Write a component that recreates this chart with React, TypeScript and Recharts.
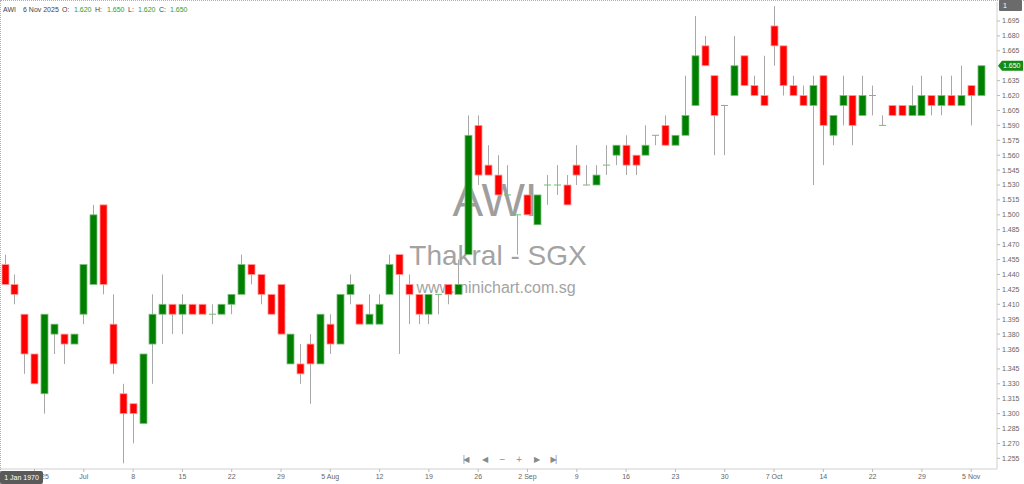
import { ComposedChart, Bar, XAxis, YAxis, ReferenceLine } from "recharts";

// daily OHLC, 19 Jun 2025 -> 6 Nov 2025 (100 sessions)
const opens = [
  1.45, 1.43, 1.4, 1.36, 1.32, 1.38, 1.38, 1.37, 1.4, 1.43,
  1.51, 1.39, 1.32, 1.31, 1.29, 1.37, 1.4, 1.41, 1.4, 1.41,
  1.41, 1.4, 1.4, 1.41, 1.42, 1.45, 1.44, 1.42, 1.43, 1.35,
  1.35, 1.37, 1.35, 1.39, 1.37, 1.42, 1.41, 1.39, 1.39, 1.42,
  1.46, 1.43, 1.42, 1.4, 1.42, 1.43, 1.42, 1.46, 1.59, 1.55,
  1.54, 1.52, 1.5, 1.52, 1.49, 1.53, 1.53, 1.53, 1.55, 1.53,
  1.53, 1.55, 1.56, 1.57, 1.56, 1.56, 1.58, 1.59, 1.57, 1.58,
  1.61, 1.67, 1.64, 1.61, 1.62, 1.66, 1.63, 1.62, 1.69, 1.67,
  1.63, 1.62, 1.61, 1.64, 1.58, 1.61, 1.62, 1.6, 1.62, 1.59,
  1.61, 1.61, 1.6, 1.6, 1.62, 1.61, 1.62, 1.61, 1.63, 1.62,
];
const highs = [
  1.46, 1.44, 1.4, 1.36, 1.4, 1.39, 1.38, 1.38, 1.45, 1.51,
  1.51, 1.42, 1.33, 1.31, 1.36, 1.42, 1.44, 1.41, 1.42, 1.41,
  1.41, 1.41, 1.41, 1.42, 1.46, 1.45, 1.44, 1.42, 1.43, 1.38,
  1.37, 1.38, 1.4, 1.4, 1.42, 1.44, 1.41, 1.42, 1.42, 1.46,
  1.46, 1.44, 1.42, 1.42, 1.42, 1.43, 1.455, 1.6, 1.6, 1.57,
  1.56, 1.55, 1.5, 1.52, 1.52, 1.54, 1.55, 1.54, 1.57, 1.55,
  1.55, 1.57, 1.57, 1.58, 1.56, 1.59, 1.58, 1.6, 1.58, 1.64,
  1.7, 1.68, 1.64, 1.61, 1.68, 1.66, 1.64, 1.66, 1.71, 1.67,
  1.64, 1.63, 1.64, 1.64, 1.6, 1.64, 1.62, 1.64, 1.63, 1.6,
  1.61, 1.61, 1.63, 1.64, 1.62, 1.64, 1.64, 1.65, 1.63, 1.65,
];
const lows = [
  1.43, 1.41, 1.34, 1.33, 1.3, 1.36, 1.35, 1.37, 1.39, 1.43,
  1.42, 1.34, 1.25, 1.27, 1.29, 1.33, 1.37, 1.38, 1.38, 1.4,
  1.4, 1.39, 1.4, 1.4, 1.42, 1.43, 1.41, 1.4, 1.38, 1.35,
  1.33, 1.31, 1.35, 1.36, 1.37, 1.41, 1.39, 1.39, 1.39, 1.42,
  1.36, 1.39, 1.39, 1.39, 1.4, 1.41, 1.42, 1.46, 1.53, 1.54,
  1.52, 1.52, 1.46, 1.5, 1.49, 1.51, 1.52, 1.51, 1.53, 1.53,
  1.53, 1.54, 1.55, 1.54, 1.54, 1.56, 1.57, 1.57, 1.57, 1.58,
  1.61, 1.65, 1.56, 1.56, 1.62, 1.63, 1.62, 1.61, 1.65, 1.62,
  1.62, 1.61, 1.53, 1.55, 1.57, 1.59, 1.57, 1.6, 1.6, 1.59,
  1.6, 1.6, 1.6, 1.6, 1.6, 1.6, 1.61, 1.61, 1.59, 1.62,
];
const closes = [
  1.43, 1.42, 1.36, 1.33, 1.4, 1.39, 1.37, 1.38, 1.45, 1.5,
  1.43, 1.35, 1.3, 1.3, 1.36, 1.4, 1.41, 1.4, 1.41, 1.4,
  1.4, 1.4, 1.41, 1.42, 1.45, 1.44, 1.42, 1.4, 1.38, 1.38,
  1.34, 1.35, 1.4, 1.37, 1.42, 1.43, 1.39, 1.4, 1.41, 1.45,
  1.44, 1.42, 1.4, 1.42, 1.42, 1.42, 1.43, 1.58, 1.54, 1.54,
  1.52, 1.52, 1.5, 1.5, 1.52, 1.53, 1.53, 1.51, 1.54, 1.53,
  1.54, 1.55, 1.57, 1.55, 1.55, 1.57, 1.58, 1.57, 1.58, 1.6,
  1.66, 1.65, 1.6, 1.61, 1.65, 1.63, 1.62, 1.61, 1.67, 1.63,
  1.62, 1.61, 1.63, 1.59, 1.6, 1.62, 1.59, 1.62, 1.62, 1.59,
  1.6, 1.6, 1.61, 1.62, 1.61, 1.62, 1.61, 1.62, 1.62, 1.65,
];

// x ticks: first session of each week
const tickIdx = [3, 8, 13, 18, 23, 28, 33, 38, 43, 48, 53, 58, 63, 68, 73, 78, 83, 88, 93, 98];
const tickLabels = [
  "Jun 2025", "Jul", "8", "15", "22", "29", "5 Aug", "12", "19", "26",
  "2 Sep", "9", "16", "23", "30", "7 Oct", "14", "22", "29", "5 Nov",
];
const priceTicks = [
  1.255, 1.27, 1.285, 1.3, 1.315, 1.33, 1.345, 1.365, 1.38, 1.395, 1.41, 1.425,
  1.44, 1.455, 1.47, 1.485, 1.5, 1.515, 1.53, 1.545, 1.56, 1.575, 1.59, 1.605,
  1.62, 1.635, 1.665, 1.68, 1.695,
];

const data = opens.map((o, i) => ({
  i,
  open: o,
  high: highs[i],
  low: lows[i],
  close: closes[i],
}));
const last = data[data.length - 1];

const FONT = '"Liberation Sans", Arial, sans-serif';
const UP = "#008000";
const DOWN = "#ff0000";

const Candle = (props: any) => {
  const { x, y, width, height, payload } = props;
  const { open, close, high, low } = payload;
  const top = Math.min(y, y + height);
  const h = Math.abs(height);
  const toY = (v: number) => (high === low ? top : top + ((high - v) / (high - low)) * h);
  const cx = Math.round(x + width / 2) + 0.5;
  const yo = toY(open);
  const yc = toY(close);
  const bw = 7;
  if (open === close) {
    return (
      <g>
        <line x1={cx} x2={cx} y1={top} y2={top + h} stroke="#a8a8a8" strokeWidth={1} />
        <line x1={cx - bw / 2} x2={cx + bw / 2} y1={yo} y2={yo} stroke="#6fbf6f" strokeWidth={1} />
      </g>
    );
  }
  const rising = close > open;
  return (
    <g>
      <line x1={cx} x2={cx} y1={top} y2={top + h} stroke="#a8a8a8" strokeWidth={1} />
      <rect
        x={cx - bw / 2}
        y={Math.min(yo, yc)}
        width={bw}
        height={Math.abs(yo - yc)}
        fill={rising ? UP : DOWN}
        stroke={rising ? "#7fbf7f" : "#ff9a9a"}
        strokeWidth={0.8}
      />
    </g>
  );
};

const PriceTag = (props: any) => {
  const vb = props.viewBox || {};
  const x = vb.x + vb.width;
  const y = vb.y;
  return (
    <g>
      <path
        d={`M${x + 1},${y} L${x + 5},${y - 5} L${x + 26},${y - 5} L${x + 26},${y + 5} L${x + 5},${y + 5} Z`}
        fill="#158a15"
      />
      <text x={x + 6} y={y + 2.5} fontSize={7} fill="#fff" fontFamily={FONT}>
        {last.close.toFixed(3)}
      </text>
    </g>
  );
};

const hdr = (left: number, text: string, color: string) => (
  <span style={{ position: "absolute", left, top: 6, fontSize: 7, color, whiteSpace: "nowrap" }}>{text}</span>
);

export default function App() {
  return (
    <div
      style={{
        position: "absolute",
        left: 0,
        top: 0,
        width: 1024,
        height: 484,
        background: "#fff",
        overflow: "hidden",
        fontFamily: FONT,
      }}
    >
      {/* watermark */}
      <div style={{ position: "absolute", left: 395, width: 200, top: 174, textAlign: "center", fontSize: 46, color: "#9e9e9e", lineHeight: "52px" }}>
        AWI
      </div>
      <div style={{ position: "absolute", left: 348, width: 300, top: 240, textAlign: "center", fontSize: 28, color: "#a3a3a3", lineHeight: "32px" }}>
        Thakral - SGX
      </div>
      <div style={{ position: "absolute", left: 346, width: 300, top: 279, textAlign: "center", fontSize: 16, color: "#a3a3a3", lineHeight: "18px" }}>
        www.minichart.com.sg
      </div>

      <div style={{ position: "absolute", left: 0, top: 0 }}>
        <ComposedChart width={1024} height={484} data={data} margin={{ top: 2, right: 0, left: 0, bottom: 0 }}>
          <XAxis
            dataKey="i"
            type="category"
            ticks={tickIdx}
            interval={0}
            padding={{ left: 0, right: 11 }}
            height={15}
            tickFormatter={(v: any) => tickLabels[tickIdx.indexOf(Number(v))] ?? ""}
            tick={{ fontSize: 7, fill: "#666", fontFamily: FONT }}
            tickLine={{ stroke: "#bbb" }}
            tickSize={3}
            tickMargin={2}
            axisLine={{ stroke: "#d0d0d0" }}
          />
          <YAxis
            orientation="right"
            width={27}
            domain={[1.2443, 1.7141]}
            allowDataOverflow
            ticks={priceTicks}
            interval={0}
            tickFormatter={(v: number) => v.toFixed(3)}
            tick={{ fontSize: 7, fill: "#666", fontFamily: FONT }}
            tickLine={{ stroke: "#bbb" }}
            tickSize={3}
            tickMargin={2}
            axisLine={{ stroke: "#d0d0d0" }}
          />
          <Bar
            dataKey={(d: any) => [d.low, d.high]}
            barSize={7}
            shape={<Candle />}
            isAnimationActive={false}
          />
          <ReferenceLine y={last.close} stroke="none" ifOverflow="visible" label={(p: any) => <PriceTag {...p} />} />
        </ComposedChart>
      </div>

      {/* frame */}
      <div style={{ position: "absolute", left: 0, top: 0, width: 1024, height: 0, borderTop: "1px dotted #b0b0b0" }} />
      <div style={{ position: "absolute", left: 0, top: 0, width: 0, height: 484, borderLeft: "1px dotted #b0b0b0" }} />

      {/* header */}
      {hdr(3, "AWI", "#444")}
      {hdr(23, "6 Nov 2025", "#444")}
      {hdr(62, "O:", "#444")}
      {hdr(74, last.open.toFixed(3), "#2e9e2e")}
      {hdr(95, "H:", "#444")}
      {hdr(107, last.high.toFixed(3), "#2e9e2e")}
      {hdr(128, "L:", "#444")}
      {hdr(138, last.low.toFixed(3), "#2e9e2e")}
      {hdr(159, "C:", "#444")}
      {hdr(170, last.close.toFixed(3), "#2e9e2e")}

      {/* top-right pane number */}
      <div style={{ position: "absolute", left: 999, top: 0, width: 23, height: 11, background: "#6b6b6b", borderRadius: 1, color: "#fff", fontSize: 7, lineHeight: "11px", paddingLeft: 4, boxSizing: "border-box" }}>
        1
      </div>

      {/* crosshair date box */}
      <div style={{ position: "absolute", left: 0, top: 471, width: 43, height: 13, background: "#5a5a5a", borderRadius: 2, color: "#fff", fontSize: 7, lineHeight: "13px", textAlign: "center" }}>
        1 Jan 1970
      </div>

      {/* navigation */}
      {[
        [465, "|◀"],
        [484, "◀"],
        [501, "−"],
        [518, "+"],
        [536, "▶"],
        [553, "▶|"],
      ].map(([x, s]) => (
        <span
          key={String(x)}
          style={{ position: "absolute", left: (x as number) - 10, width: 20, top: 454, textAlign: "center", fontSize: 8, lineHeight: "12px", color: "#8a8a8a", fontFamily: '"DejaVu Sans", sans-serif', letterSpacing: -2 }}
        >
          {s}
        </span>
      ))}
    </div>
  );
}
